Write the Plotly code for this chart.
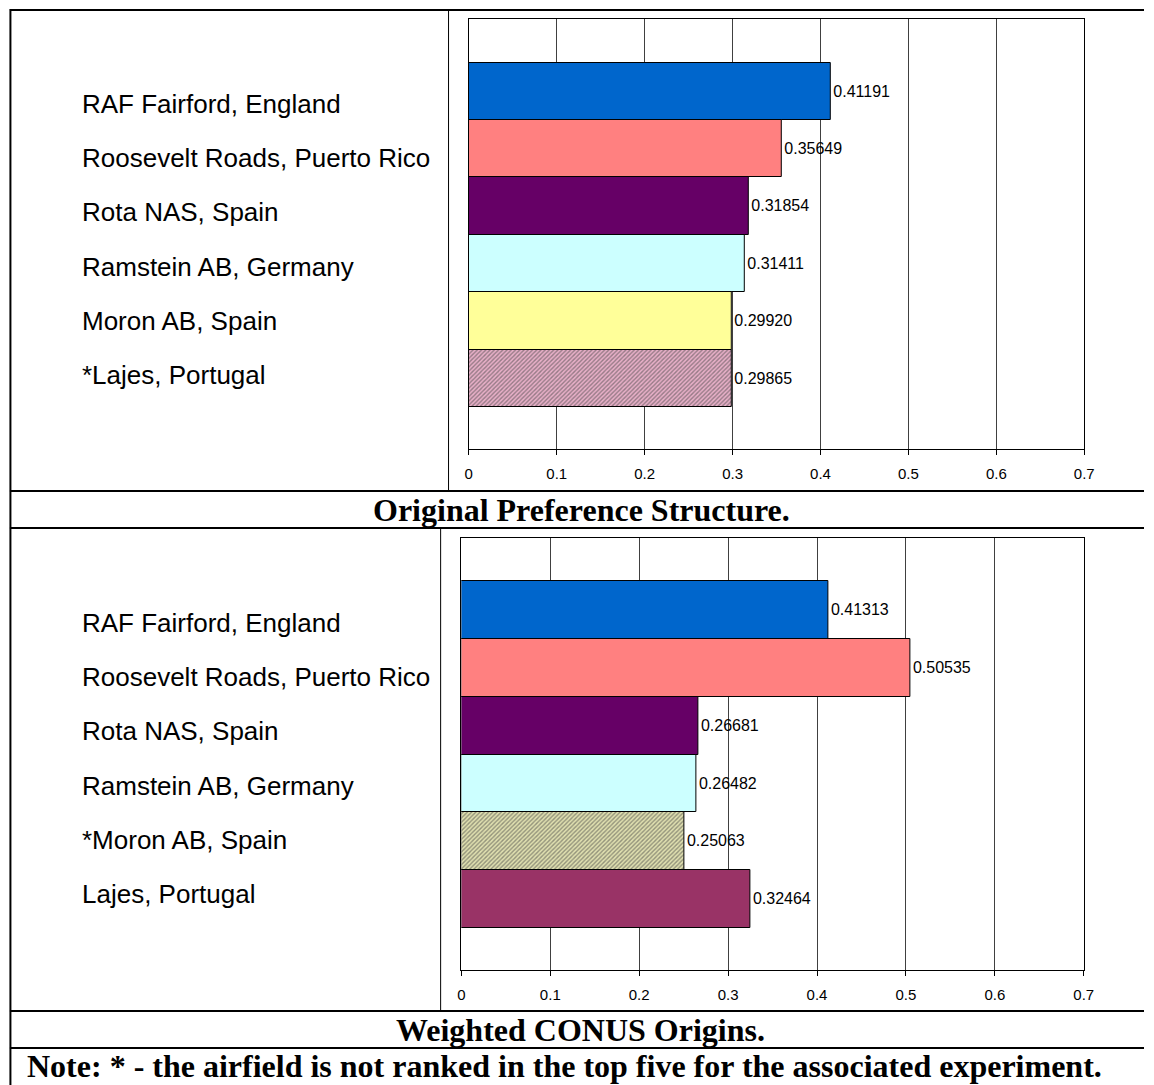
import plotly.graph_objects as go

# ---------------- data ----------------
labels_top = ["RAF Fairford, England", "Roosevelt Roads, Puerto Rico", "Rota NAS, Spain",
              "Ramstein AB, Germany", "Moron AB, Spain", "*Lajes, Portugal"]
values_top = [0.41191, 0.35649, 0.31854, 0.31411, 0.29920, 0.29865]

labels_bottom = ["RAF Fairford, England", "Roosevelt Roads, Puerto Rico", "Rota NAS, Spain",
                 "Ramstein AB, Germany", "*Moron AB, Spain", "Lajes, Portugal"]
values_bottom = [0.41313, 0.50535, 0.26681, 0.26482, 0.25063, 0.32464]

x_ticks = [0, 0.1, 0.2, 0.3, 0.4, 0.5, 0.6, 0.7]
x_tick_text = ["0", "0.1", "0.2", "0.3", "0.4", "0.5", "0.6", "0.7"]

title_top = "Original Preference Structure."
title_bottom = "Weighted CONUS Origins."
note_text = "Note: * - the airfield is not ranked in the top five for the associated experiment."

# ---------------- styles ----------------
colors_top = ["#0066CC", "#FF8080", "#660066", "#CCFFFF", "#FFFF99", "#E8B0C8"]
shapes_top = ["", "", "", "", "", "/"]
fg_top = ["#0066CC", "#FF8080", "#660066", "#CCFFFF", "#FFFF99", "#993366"]
bg_top = ["#0066CC", "#FF8080", "#660066", "#CCFFFF", "#FFFF99", "#F4D8E4"]

colors_bottom = ["#0066CC", "#FF8080", "#660066", "#CCFFFF", "#E0E0B0", "#993366"]
shapes_bottom = ["", "", "", "", "/", ""]
fg_bottom = ["#0066CC", "#FF8080", "#660066", "#CCFFFF", "#A0A070", "#993366"]
bg_bottom = ["#0066CC", "#FF8080", "#660066", "#CCFFFF", "#FFFFCC", "#993366"]

W, H = 1154, 1085
def px(x):
    return x / W
def py(y):
    return 1 - y / H

SANS = "Liberation Sans, Arial, sans-serif"
SERIF = "Liberation Serif, Times New Roman, serif"

fig = go.Figure()

def add_bars(labels, values, colors, shapes, fg, bg, xa, ya):
    fig.add_trace(go.Bar(
        y=list(range(len(labels))), x=values, orientation="h",
        width=1.0,
        marker=dict(color=colors, line=dict(color="black", width=1),
                    pattern=dict(shape=shapes, fgcolor=fg, bgcolor=bg,
                                 size=3, solidity=0.45)),
        text=[f"{v:.5f}" for v in values], textposition="outside",
        textfont=dict(family=SANS, size=16, color="black"),
        cliponaxis=False, constraintext="none",
        xaxis=xa, yaxis=ya, showlegend=False, hoverinfo="skip",
    ))

add_bars(labels_top, values_top, colors_top, shapes_top, fg_top, bg_top, "x", "y")
add_bars(labels_bottom, values_bottom, colors_bottom, shapes_bottom, fg_bottom, bg_bottom, "x2", "y2")

xax = dict(range=[0, 0.7], tickvals=x_ticks, ticktext=x_tick_text,
           showgrid=True, gridcolor="#404040", gridwidth=1,
           showline=True, linecolor="black", linewidth=1, mirror=True,
           ticks="outside", ticklen=5, tickcolor="black",
           tickfont=dict(family=SANS, size=15, color="black"),
           ticklabelstandoff=6, zeroline=False, fixedrange=True)
yax = dict(showticklabels=False, showgrid=False, zeroline=False,
           showline=True, linecolor="black", linewidth=1, mirror=True,
           ticks="", fixedrange=True)

fig.update_layout(
    width=W, height=H, margin=dict(l=0, r=0, t=0, b=0),
    paper_bgcolor="white", plot_bgcolor="white",
    bargap=0,
    xaxis=dict(xax, domain=[px(470.5), px(1093.5)], anchor="y"),
    yaxis=dict(yax, domain=[py(449), py(19)], range=[6.23, -1.26], anchor="x"),
    xaxis2=dict(xax, domain=[px(463), px(1093)], anchor="y2"),
    yaxis2=dict(yax, domain=[py(970), py(538)], range=[6.23, -1.25], anchor="x2"),
)

# table lines
shapes = []
def hline(y, x0=6, x1=W, w=2):
    shapes.append(dict(type="line", xref="paper", yref="paper",
                       x0=px(x0), x1=px(x1), y0=py(y), y1=py(y),
                       line=dict(color="black", width=w)))
def vline(x, y0, y1, w=1):
    shapes.append(dict(type="line", xref="paper", yref="paper",
                       x0=px(x), x1=px(x), y0=py(y0), y1=py(y1),
                       line=dict(color="black", width=w)))
for yy in [10, 491, 528, 1011, 1048]:
    hline(yy)
vline(6.5, 9, H, w=2)
vline(450, 10, 491)
vline(442, 528, 1011)
fig.update_layout(shapes=shapes)

# annotations: category labels in left column + row titles
ann = []
for i, lab in enumerate(labels_top):
    ann.append(dict(text=lab, xref="paper", yref="paper", x=px(77), y=py(104 + 54.2 * i),
                    xanchor="left", yanchor="middle", showarrow=False,
                    font=dict(family=SANS, size=26, color="black")))
for i, lab in enumerate(labels_bottom):
    ann.append(dict(text=lab, xref="paper", yref="paper", x=px(77), y=py(623 + 54.2 * i),
                    xanchor="left", yanchor="middle", showarrow=False,
                    font=dict(family=SANS, size=26, color="black")))
ann.append(dict(text=f"<b>{title_top}</b>", xref="paper", yref="paper", x=px(585), y=py(510),
                xanchor="center", yanchor="middle", showarrow=False,
                font=dict(family=SERIF, size=32, color="black")))
ann.append(dict(text=f"<b>{title_bottom}</b>", xref="paper", yref="paper", x=px(584), y=py(1030),
                xanchor="center", yanchor="middle", showarrow=False,
                font=dict(family=SERIF, size=32, color="black")))
ann.append(dict(text=f"<b>{note_text}</b>", xref="paper", yref="paper", x=px(21), y=py(1066),
                xanchor="left", yanchor="middle", showarrow=False,
                font=dict(family=SERIF, size=32, color="black")))
fig.update_layout(annotations=ann)

fig.write_html(
    "out.html",
    config={"displayModeBar": False, "responsive": False},
    post_script=("document.documentElement.style.overflow='hidden';"
                 "document.body.style.overflow='hidden';"
                 "document.body.style.margin='0';document.body.style.padding='0';"),
)
